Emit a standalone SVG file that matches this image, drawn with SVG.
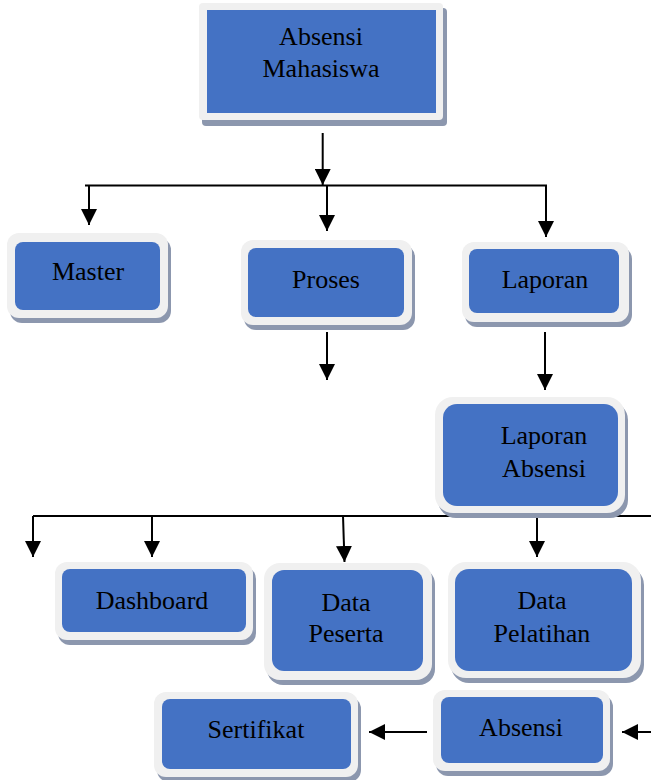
<svg xmlns="http://www.w3.org/2000/svg" width="651" height="780" viewBox="0 0 651 780">
<style>
.sh{fill:#8C97AE}
.out{fill:#F0F0F0}
.in{fill:#4472C4}
.t{font-family:"Liberation Serif","Times New Roman",serif;font-size:26px;fill:#000;text-anchor:middle}
.c{stroke:#000;stroke-width:2;fill:none}
.a{stroke:#000;stroke-width:2;fill:none;marker-end:url(#ah)}
</style>
<defs>
<marker id="ah" viewBox="0 0 16 16" refX="16" refY="8" markerWidth="16" markerHeight="16" markerUnits="userSpaceOnUse" orient="auto">
<path d="M0,0 L16,8 L0,16 z" fill="#000"/>
</marker>
</defs>
<rect width="651" height="780" fill="#fff"/>
<g id="connectors">
<line class="a" x1="322.7" y1="133" x2="322.7" y2="185"/>
<line class="c" x1="85" y1="185.5" x2="547" y2="185.5"/>
<line class="a" x1="89" y1="185" x2="89" y2="225"/>
<line class="a" x1="327" y1="185" x2="327" y2="231"/>
<line class="a" x1="546" y1="185" x2="546" y2="237"/>
<line class="a" x1="327" y1="332" x2="327" y2="380"/>
<line class="a" x1="545" y1="332" x2="545" y2="390"/>
<line class="c" x1="33" y1="516" x2="651" y2="516"/>
<line class="a" x1="33" y1="516" x2="33" y2="557"/>
<line class="a" x1="152" y1="516" x2="152" y2="557"/>
<line class="a" x1="343" y1="516" x2="344.5" y2="562"/>
<line class="a" x1="537" y1="516" x2="537" y2="557"/>
<line class="a" x1="427" y1="732" x2="369" y2="732"/>
<line class="a" x1="651" y1="732" x2="622" y2="732"/>
</g>
<g id="node-absensi-mahasiswa">
<rect class="sh" x="202" y="8" width="245" height="118" rx="4"/>
<rect class="out" x="199" y="3" width="244" height="117" rx="4"/>
<rect class="in" x="207" y="10" width="229" height="103"/>
<text class="t" x="321" y="45">Absensi</text>
<text class="t" x="321" y="77">Mahasiswa</text>
</g>
<g id="node-master">
<rect class="sh" x="10" y="238" width="161" height="85" rx="12"/>
<rect class="out" x="7" y="233" width="161" height="85" rx="12"/>
<rect class="in" x="15" y="242" width="145" height="68" rx="8"/>
<text class="t" x="88" y="280">Master</text>
</g>
<g id="node-proses">
<rect class="sh" x="244" y="245" width="171" height="85" rx="12"/>
<rect class="out" x="241" y="240" width="171" height="85" rx="12"/>
<rect class="in" x="248" y="248" width="156" height="69" rx="8"/>
<text class="t" x="326" y="288">Proses</text>
</g>
<g id="node-laporan">
<rect class="sh" x="465" y="247" width="167" height="80" rx="12"/>
<rect class="out" x="462" y="242" width="167" height="80" rx="12"/>
<rect class="in" x="469" y="249" width="150" height="64" rx="8"/>
<text class="t" x="545" y="288">Laporan</text>
</g>
<g id="node-laporan-absensi">
<rect class="sh" x="438" y="402" width="190" height="116" rx="18"/>
<rect class="out" x="435" y="397" width="190" height="116" rx="18"/>
<rect class="in" x="443" y="404" width="175" height="102" rx="14"/>
<text class="t" x="544" y="444">Laporan</text>
<text class="t" x="544" y="477">Absensi</text>
</g>
<g id="node-dashboard">
<rect class="sh" x="58" y="567" width="198" height="78" rx="12"/>
<rect class="out" x="55" y="562" width="198" height="78" rx="12"/>
<rect class="in" x="62" y="569" width="184" height="63" rx="8"/>
<text class="t" x="152" y="609">Dashboard</text>
</g>
<g id="node-data-peserta">
<rect class="sh" x="267" y="568" width="168" height="117" rx="16"/>
<rect class="out" x="264" y="563" width="168" height="117" rx="16"/>
<rect class="in" x="272" y="570" width="151" height="101" rx="12"/>
<text class="t" x="346" y="611">Data</text>
<text class="t" x="346" y="642">Peserta</text>
</g>
<g id="node-data-pelatihan">
<rect class="sh" x="451" y="567" width="193" height="116" rx="18"/>
<rect class="out" x="448" y="562" width="193" height="116" rx="18"/>
<rect class="in" x="455" y="569" width="177" height="102" rx="14"/>
<text class="t" x="542" y="609">Data</text>
<text class="t" x="542" y="642">Pelatihan</text>
</g>
<g id="node-sertifikat">
<rect class="sh" x="157" y="697" width="204" height="85" rx="12"/>
<rect class="out" x="154" y="692" width="204" height="85" rx="12"/>
<rect class="in" x="162" y="699" width="189" height="70" rx="8"/>
<text class="t" x="256" y="738">Sertifikat</text>
</g>
<g id="node-absensi">
<rect class="sh" x="436" y="695" width="177" height="81" rx="12"/>
<rect class="out" x="433" y="690" width="177" height="81" rx="12"/>
<rect class="in" x="441" y="697" width="162" height="66" rx="8"/>
<text class="t" x="521" y="736">Absensi</text>
</g>
</svg>
